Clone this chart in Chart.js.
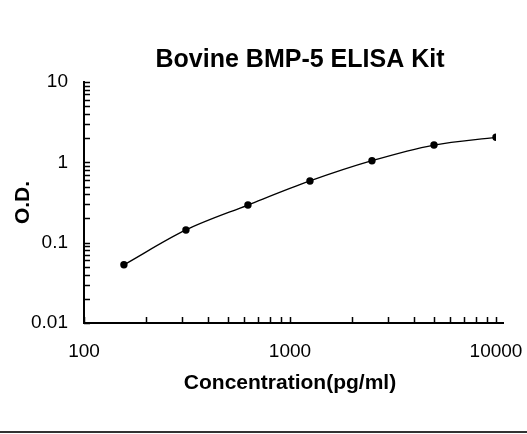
<!DOCTYPE html>
<html>
<head>
<meta charset="utf-8">
<script src="https://cdn.jsdelivr.net/npm/chart.js@4/dist/chart.umd.min.js"></script>
<style>
    html, body { margin: 0; padding: 0; background: #fff; }
    #wrap { position: relative; width: 527px; height: 434px; }
    #rule { position: absolute; left: 0; top: 431px; width: 527px; height: 2px; background: #333; }
</style>
</head>
<body>
<div id="wrap">
    <canvas id="chart" width="527" height="434"></canvas>
    <div id="rule"></div>
</div>
<script>
// Standard curve data
const concentrations = [156.25, 312.5, 625, 1250, 2500, 5000, 10000];
const odValues = [0.053, 0.144, 0.294, 0.586, 1.047, 1.64, 2.05];

const xTickValues = [100, 1000, 10000];
const xTickLabels = ['100', '1000', '10000'];
const yTickValues = [0.01, 0.1, 1, 10];
const yTickLabels = ['0.01', '0.1', '1', '10'];

const FONT = 'Arial, "Liberation Sans", sans-serif';

// label only the decades, blank for minor ticks
function decadeLabel(values, labels) {
    return function (value) {
        const i = values.findIndex(v => Math.abs(Math.log10(v) - Math.log10(value)) < 1e-6);
        return i >= 0 ? labels[i] : '';
    };
}

// keep 1..9 x 10^n only (drop the 1.5 steps chart.js adds)
function keepWholeSteps(scale) {
    scale.ticks = scale.ticks.filter(t => {
        const m = t.value / Math.pow(10, Math.floor(Math.log10(t.value) + 1e-9));
        return Math.abs(m - Math.round(m)) < 1e-6;
    });
}

// inward tick marks, like the spreadsheet chart
const innerTicks = {
    id: 'innerTicks',
    afterLayout(chart) {
        // title sits a bit right of the plot centre in the original
        const t = chart.titleBlock;
        if (t) { t.left += 10; t.right += 10; }
    },
    afterDraw(chart) {
        const { ctx, chartArea, scales } = chart;
        ctx.save();
        ctx.strokeStyle = '#000';
        ctx.lineWidth = 1.5;
        ctx.beginPath();
        scales.x.ticks.forEach(t => {
            const px = Math.round(scales.x.getPixelForValue(t.value)) + 0.5;
            ctx.moveTo(px, chartArea.bottom);
            ctx.lineTo(px, chartArea.bottom - 6);
        });
        scales.y.ticks.forEach(t => {
            const py = Math.round(scales.y.getPixelForValue(t.value)) + 0.5;
            ctx.moveTo(chartArea.left, py);
            ctx.lineTo(chartArea.left + 6, py);
        });
        ctx.stroke();
        // axis line runs a little past the last tick
        ctx.lineWidth = 2;
        ctx.beginPath();
        ctx.moveTo(chartArea.right, chartArea.bottom);
        ctx.lineTo(chartArea.right + 8, chartArea.bottom);
        ctx.stroke();
        ctx.restore();
    }
};

new Chart(document.getElementById('chart'), {
    type: 'line',
    data: {
        datasets: [{
            data: concentrations.map((c, i) => ({ x: c, y: odValues[i] })),
            borderColor: '#000',
            borderWidth: 1.3,
            backgroundColor: '#000',
            pointRadius: 3.7,
            pointBorderWidth: 0,
            cubicInterpolationMode: 'monotone',
            fill: false
        }]
    },
    options: {
        responsive: false,
        devicePixelRatio: 1,
        animation: false,
        layout: { padding: { left: 0, right: 31, top: 0, bottom: 0 } },
        plugins: {
            legend: { display: false },
            tooltip: { enabled: false },
            title: {
                display: true,
                text: 'Bovine BMP-5 ELISA Kit',
                color: '#000',
                fullSize: false,
                font: { family: FONT, size: 25, weight: 'bold' },
                padding: { top: 45, bottom: 7 }
            }
        },
        scales: {
            x: {
                type: 'logarithmic',
                min: 100,
                max: 10000,
                afterBuildTicks: keepWholeSteps,
                afterFit: s => { s.height = 111; s.paddingLeft = 0; s.paddingRight = 0; },
                grid: { display: false },
                border: { display: true, color: '#000', width: 2 },
                ticks: {
                    autoSkip: false,
                    maxRotation: 0,
                    color: '#000',
                    padding: 9.6,
                    font: { family: FONT, size: 19 },
                    callback: decadeLabel(xTickValues, xTickLabels)
                },
                title: {
                    display: true,
                    text: 'Concentration(pg/ml)',
                    color: '#000',
                    font: { family: FONT, size: 21, weight: 'bold' },
                    padding: { top: 4, bottom: 38.4 }
                }
            },
            y: {
                type: 'logarithmic',
                min: 0.01,
                max: 10,
                afterBuildTicks: keepWholeSteps,
                afterFit: s => { s.width = 84; },
                grid: { display: false },
                border: { display: true, color: '#000', width: 2 },
                ticks: {
                    autoSkip: false,
                    color: '#000',
                    padding: 8,
                    font: { family: FONT, size: 19 },
                    callback: decadeLabel(yTickValues, yTickLabels)
                },
                title: {
                    display: true,
                    text: 'O.D.',
                    color: '#000',
                    font: { family: FONT, size: 21, weight: 'bold' },
                    padding: { top: 11, bottom: 4 }
                }
            }
        }
    },
    plugins: [innerTicks]
});
</script>
</body>
</html>
